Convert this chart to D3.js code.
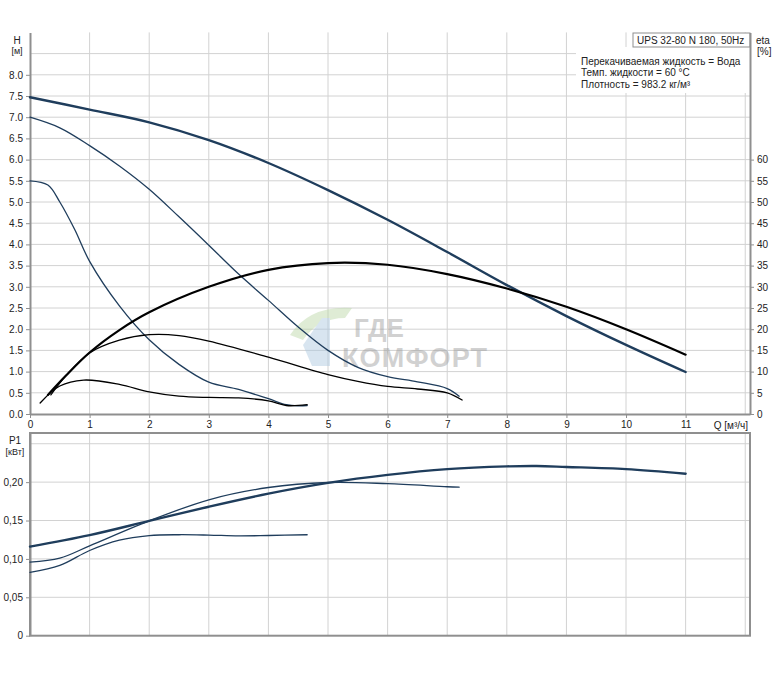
<!DOCTYPE html>
<html><head><meta charset="utf-8">
<script src="https://cdn.jsdelivr.net/npm/d3@7"></script>
<style>body{margin:0;background:#fff}svg{display:block}text{font-family:"Liberation Sans",Arial,sans-serif;fill:#222}</style>
</head><body><svg id="c" width="774" height="678"></svg>
<script>
// ---- data ----
const qTicks = [0,1,2,3,4,5,6,7,8,9,10,11];
const hTicks = [0,0.5,1,1.5,2,2.5,3,3.5,4,4.5,5,5.5,6,6.5,7,7.5,8];
const etaTicks = [0,5,10,15,20,25,30,35,40,45,50,55,60];
const pTicks = [0,0.05,0.10,0.15,0.20];
const pTickLabels = ["0","0,05","0,10","0,15","0,20"];

const hSpeed3 = [[0,7.47],[1,7.18],[2,6.88],[3,6.46],[4,5.92],[5,5.28],[6,4.58],[7,3.82],[8,3.04],[9,2.31],[10,1.63],[11,0.99]];
const hSpeed2 = [[0,7.0],[0.5,6.75],[1,6.33],[1.5,5.85],[2,5.3],[2.5,4.65],[3,3.98],[3.5,3.3],[4,2.68],[4.5,2.05],[5,1.5],[5.5,1.1],[6,0.88],[6.5,0.76],[7,0.6],[7.2,0.42]];
const hSpeed1 = [[0,5.5],[0.3,5.4],[0.5,5.0],[0.75,4.35],[1,3.6],[1.5,2.55],[2,1.75],[2.5,1.17],[3,0.75],[3.5,0.58],[4,0.36],[4.3,0.22],[4.5,0.19],[4.65,0.2]];

const etaSpeed3 = [[0.3,4.5],[0.6,9],[1,14.5],[1.5,19.8],[2,24],[3,30],[4,34],[5,35.6],[6,35.2],[7,33],[8,29.6],[9,25.3],[10,20],[11,14]];
const etaSpeed2 = [[0.35,4.5],[0.6,9],[1,14.4],[1.5,17.4],[2,18.7],[2.5,18.5],[3,17.2],[4,13.4],[5,9.3],[5.5,7.7],[6,6.5],[6.5,5.9],[7,5.0],[7.25,3.3]];
const etaSpeed1 = [[0.17,2.6],[0.5,6.6],[0.9,8.0],[1.5,7.0],[2,5.2],[2.5,4.2],[3,3.9],[3.5,3.8],[4,3.1],[4.3,2.0],[4.65,2.2]];

const pSpeed3 = [[0,0.116],[1,0.131],[2,0.1495],[3,0.168],[4,0.185],[5,0.199],[6,0.2095],[7,0.217],[8,0.2205],[8.5,0.221],[9,0.2198],[10,0.217],[11,0.211]];
const pSpeed2 = [[0,0.0957],[0.5,0.101],[1,0.117],[2,0.1495],[3,0.177],[4,0.193],[5,0.1995],[6,0.198],[7,0.194],[7.2,0.1935]];
const pSpeed1 = [[0,0.0826],[0.5,0.0915],[1,0.111],[1.5,0.1245],[2,0.1304],[2.5,0.1315],[3,0.131],[3.5,0.130],[4,0.1305],[4.65,0.1315]];

// ---- layout ----
const svg = d3.select("#c");
const X0 = 30, X1 = 750;
const x = d3.scaleLinear().domain([0, 12.08]).range([X0, X1]);
const yH = d3.scaleLinear().domain([0, 9]).range([414, 32.4]);
const yEta = d3.scaleLinear().domain([0, 90]).range([414, 32.4]);
const yP = d3.scaleLinear().domain([0, 0.264]).range([635.7, 433]);

const grid = "#d2d2d2", axisC = "#8f8f8f", blue = "#1f3d5c";

// top panel grid
const gTop = svg.append("g");
d3.range(1,13).forEach(q => gTop.append("line").attr("x1",x(q)).attr("x2",x(q)).attr("y1",yH(9)).attr("y2",yH(0)).attr("stroke",grid));
d3.range(0.5,9,0.5).forEach(h => gTop.append("line").attr("x1",X0).attr("x2",X1).attr("y1",yH(h)).attr("y2",yH(h)).attr("stroke",grid));

// bottom panel grid
const gBot = svg.append("g");
d3.range(1,13).forEach(q => gBot.append("line").attr("x1",x(q)).attr("x2",x(q)).attr("y1",yP(0.264)).attr("y2",yP(0)).attr("stroke",grid));
[0.05,0.10,0.15,0.20,0.25].forEach(p => gBot.append("line").attr("x1",X0).attr("x2",X1).attr("y1",yP(p)).attr("y2",yP(p)).attr("stroke",grid));

// watermark
const wm = svg.append("g").attr("opacity",0.45);
wm.append("path").attr("d","M290,335 Q310,305 352,308 L345,318 Q318,318 303,340 Z").attr("fill","#b9d7a4");
wm.append("path").attr("d","M303,345 L322,318 L330,318 L330,366 L312,366 Z").attr("fill","#a9c7e0");
wm.append("text").attr("x",354).attr("y",337).attr("font-size",26).attr("font-weight","bold").style("fill","#9a9a9a").text("ГДЕ");
wm.append("text").attr("x",342).attr("y",367).attr("font-size",27).attr("font-weight","bold").attr("textLength",145).style("fill","#9a9a9a").text("КОМФОРТ");

// legend text box (covers grid)
svg.append("rect").attr("x",576).attr("y",47).attr("width",174).attr("height",46).attr("fill","#fff");
svg.append("rect").attr("x",633).attr("y",33).attr("width",117).attr("height",14).attr("fill","#fff").attr("stroke",axisC);
svg.append("text").attr("x",637).attr("y",44).attr("font-size",10).text("UPS 32-80 N 180, 50Hz");
["Перекачиваемая жидкость = Вода","Темп. жидкости = 60 °C","Плотность = 983.2 кг/м³"].forEach((t,i)=>
  svg.append("text").attr("x",581).attr("y",64.5+i*11.5).attr("font-size",10).text(t));

// axes
function styleAxis(g){ g.selectAll("path").attr("stroke",axisC).attr("stroke-width",2); g.selectAll("line").attr("stroke",axisC); g.selectAll("text").attr("font-size",10).style("fill","#222").attr("font-family","Liberation Sans, Arial, sans-serif"); }
svg.append("g").attr("transform",`translate(0,${yH(0)})`).call(d3.axisBottom(x).tickValues(qTicks).tickSize(4).tickSizeOuter(0)).call(styleAxis);
svg.append("g").attr("transform",`translate(${X0},0)`).call(d3.axisLeft(yH).tickValues(hTicks).tickFormat(d3.format(".1f")).tickSize(4).tickSizeOuter(0)).call(styleAxis);
svg.append("g").attr("transform",`translate(${X1},0)`).call(d3.axisRight(yEta).tickValues(etaTicks).tickSize(4).tickSizeOuter(0)).call(styleAxis);
svg.append("g").attr("transform",`translate(${X0},0)`).call(d3.axisLeft(yP).tickValues(pTicks).tickFormat((d,i)=>pTickLabels[i]).tickSize(4).tickSizeOuter(0)).call(styleAxis);
svg.append("rect").attr("x",X0).attr("y",yP(0.264)).attr("width",X1-X0).attr("height",yP(0)-yP(0.264)).attr("fill","none").attr("stroke",axisC).attr("stroke-width",2);

// axis titles
svg.append("text").attr("x",17).attr("y",44).attr("font-size",10).attr("text-anchor","middle").text("H");
svg.append("text").attr("x",17).attr("y",54).attr("font-size",9).attr("text-anchor","middle").text("[м]");
svg.append("text").attr("x",15).attr("y",444).attr("font-size",10).attr("text-anchor","middle").text("P1");
svg.append("text").attr("x",15).attr("y",455).attr("font-size",9).attr("text-anchor","middle").text("[кВт]");
svg.append("text").attr("x",756).attr("y",44).attr("font-size",10).text("eta");
svg.append("text").attr("x",757).attr("y",55).attr("font-size",10).text("[%]");
svg.append("rect").attr("x",706).attr("y",418).attr("width",43).attr("height",14).attr("fill","#fff");
svg.append("text").attr("x",748).attr("y",429).attr("font-size",10).attr("text-anchor","end").text("Q [м³/ч]");

// curves
const cv = d3.curveCatmullRom.alpha(0.5);
const lineH = d3.line().x(d=>x(d[0])).y(d=>yH(d[1])).curve(cv);
const lineE = d3.line().x(d=>x(d[0])).y(d=>yEta(d[1])).curve(cv);
const lineP = d3.line().x(d=>x(d[0])).y(d=>yP(d[1])).curve(cv);
function draw(gen, data, color, w){ svg.append("path").datum(data).attr("d",gen).attr("fill","none").attr("stroke",color).attr("stroke-width",w).attr("stroke-linecap","round"); }
draw(lineH, hSpeed3, blue, 2.4);
draw(lineH, hSpeed2, blue, 1.3);
draw(lineH, hSpeed1, blue, 1.3);
draw(lineE, etaSpeed3, "#000", 2.2);
draw(lineE, etaSpeed2, "#000", 1.3);
draw(lineE, etaSpeed1, "#000", 1.3);
draw(lineP, pSpeed3, blue, 2.4);
draw(lineP, pSpeed2, blue, 1.3);
draw(lineP, pSpeed1, blue, 1.3);
</script></body></html>
